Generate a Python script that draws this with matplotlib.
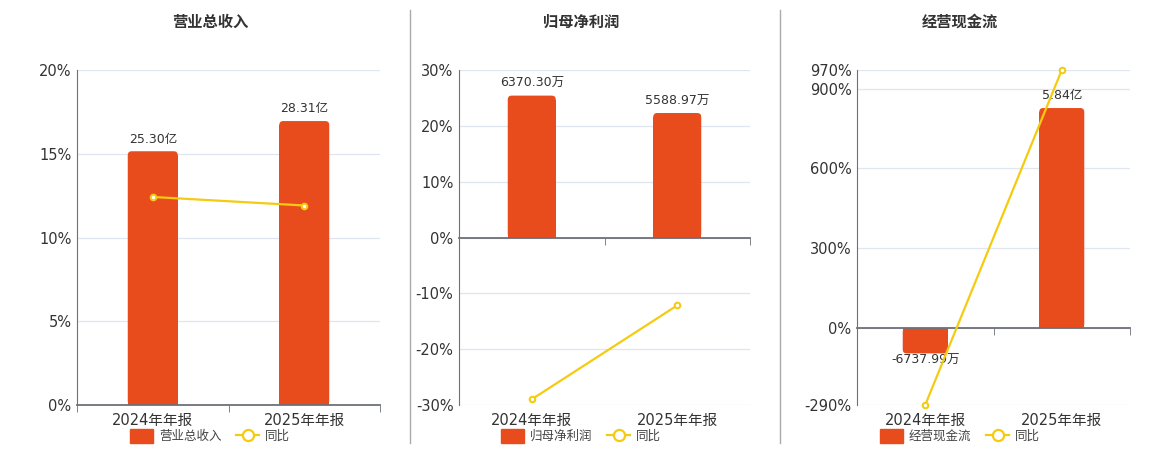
import matplotlib
matplotlib.use("Agg")
import matplotlib.pyplot as plt
from matplotlib.patches import Patch, FancyBboxPatch
from matplotlib.lines import Line2D

plt.rcParams['font.family'] = ['DejaVu Sans', 'Noto Sans CJK SC']

categories = ['2024年年报', '2025年年报']

titles = ['营业总收入', '归母净利润', '经营现金流']
bar_values = [[25.30, 28.31], [6370.30, 5588.97], [-6737.99, 58400.0]]
bar_labels = [['25.30亿', '28.31亿'], ['6370.30万', '5588.97万'], ['-6737.99万', '5.84亿']]
yoy_values = [[12.42, 11.91], [-28.98, -12.16], [-289.5, 969.6]]

pct_ticks = [[0, 5, 10, 15, 20], [-30, -20, -10, 0, 10, 20, 30], [-290, 0, 300, 600, 900, 970]]
pct_lims = [(0, 20), (-30, 30), (-290, 970)]
bar_lims = [(0, 33.4), (-7520, 7520), (-20440, 68500)]

BAR = '#E84C1D'
LINE = '#F5CB11'
AXIS = '#6E7079'
GRID = '#E0E6F1'
TEXT = '#333333'

# pixel layout (left, right) of each plot area, title/legend centre
axes_px = [(77, 380), (459, 750), (857, 1130)]
centre_px = [210, 581, 960]
W, H = 1160, 450
RADIUS = 4  # px, rounded bar end

fig = plt.figure(figsize=(11.6, 4.5), dpi=100)

for i in range(3):
    l, r = axes_px[i]
    rect = [l / W, (H - 405) / H, (r - l) / W, 335 / H]
    ax = fig.add_axes(rect)
    axb = ax.twinx()
    axl = fig.add_axes(rect)
    axl.patch.set_visible(False)

    x = list(range(len(categories)))

    # percent axis with grid + category labels
    ax.set_xlim(-0.5, 1.5)
    ax.set_ylim(*pct_lims[i])
    ax.set_yticks(pct_ticks[i])
    ax.set_yticklabels([f'{t}%' for t in pct_ticks[i]], fontsize=10.5, color=TEXT)
    ax.tick_params(axis='y', length=0, pad=4)
    ax.set_xticks(x)
    ax.set_xticklabels(categories, fontsize=10.5, color=TEXT)
    ax.tick_params(axis='x', length=0, pad=6)
    ax.grid(axis='y', color=GRID, lw=0.9)
    ax.set_axisbelow(True)
    for s in ['top', 'right', 'bottom']:
        ax.spines[s].set_visible(False)
    ax.spines['left'].set_color(AXIS)

    # bars
    axb.set_xlim(-0.5, 1.5)
    axb.set_ylim(*bar_lims[i])
    bars = axb.bar(x, bar_values[i], width=0.33, color=BAR, zorder=2)
    pos_lab = [t if v >= 0 else '' for t, v in zip(bar_labels[i], bar_values[i])]
    neg_lab = [t if v < 0 else '' for t, v in zip(bar_labels[i], bar_values[i])]
    axb.bar_label(bars, labels=pos_lab, padding=4, fontsize=9, color=TEXT)
    axb.bar_label(bars, labels=neg_lab, padding=0, fontsize=9, color=TEXT)
    # rounded outer end of each bar
    px_x = (r - l) / 2.0
    px_y = 335.0 / (bar_lims[i][1] - bar_lims[i][0])
    rx = RADIUS / px_x
    ry = RADIUS / px_y
    for b in bars:
        bx, by, bw, bh = b.get_x(), b.get_y(), b.get_width(), b.get_height()
        sign = 1 if bh >= 0 else -1
        b.set_height(bh - sign * ry)
        y0 = by if bh >= 0 else by + bh
        axb.add_patch(FancyBboxPatch((bx, y0), bw, abs(bh),
                                     boxstyle=f'round,pad=0,rounding_size={rx}',
                                     mutation_aspect=ry / rx, fc=BAR, ec='none', zorder=2))
    axb.axis('off')

    # yoy line, x axis at zero
    axl.set_xlim(-0.5, 1.5)
    axl.set_ylim(*pct_lims[i])
    axl.plot(x, yoy_values[i], color=LINE, lw=1.6, marker='o', ms=4,
             mfc='white', mec=LINE, mew=1.5, zorder=5, clip_on=False)
    axl.set_yticks([])
    for s in ['top', 'right', 'left']:
        axl.spines[s].set_visible(False)
    axl.spines['bottom'].set_position(('data', 0))
    axl.spines['bottom'].set_color(AXIS)
    axl.spines['bottom'].set_linewidth(1.3)
    axl.set_xticks([])
    axl.set_xticks([-0.5, 0.5, 1.5], minor=True)
    axl.tick_params(axis='x', which='minor', length=5, color=AXIS, direction='out')

    fig.text(centre_px[i] / W, 1 - 22 / H, titles[i], ha='center', va='center',
             fontsize=11, fontweight='bold', color=TEXT, family='Noto Sans CJK SC')

    handles = [Patch(facecolor=BAR, edgecolor=BAR),
               Line2D([], [], color=LINE, lw=1.6, marker='o', ms=8, mfc='white', mec=LINE, mew=1.6)]
    fig.legend(handles, [titles[i], '同比'], loc='center', ncol=2, frameon=False,
               bbox_to_anchor=(centre_px[i] / W, 1 - 436 / H), bbox_transform=fig.transFigure,
               handlelength=1.8, handleheight=1.3, columnspacing=1.2,
               handletextpad=0.5, labelcolor='#444444', prop={'family': ['Noto Sans CJK SC'], 'size': 9})

for xp in [410, 780]:
    fig.add_artist(Line2D([xp / W, xp / W], [1 - 10 / H, 1 - 443 / H], color='#AAAAAA', lw=1,
                          transform=fig.transFigure))

fig.savefig('out.png', dpi=100)
